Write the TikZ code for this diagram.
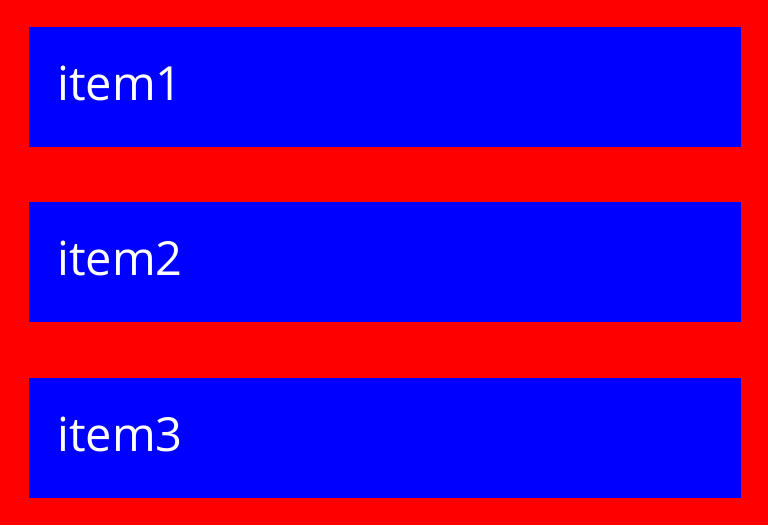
\documentclass[tikz,border=0pt]{standalone}
\usepackage{fontspec}
\setmainfont{Open Sans}
\definecolor{bgred}{HTML}{FF0000}
\definecolor{boxblue}{HTML}{0000FF}
\begin{document}
\begin{tikzpicture}[x=1pt,y=-1pt,
  itembox/.style={fill=boxblue, draw=none, anchor=north west, minimum width=712pt, minimum height=120pt,
    text width=712pt-2*28pt, inner xsep=28pt, inner ysep=0pt, align=left, text=white,
    font=\fontsize{47}{56}\selectfont, text height=36pt, text depth=9pt}]
\fill[bgred] (0,0) rectangle (768,525);
\useasboundingbox (0,0) rectangle (768,525);
\node[itembox] (item1) at (29,27) {item1};
\node[itembox] (item2) at (29,202) {item2};
\node[itembox] (item3) at (29,378) {item3};
\end{tikzpicture}
\end{document}
